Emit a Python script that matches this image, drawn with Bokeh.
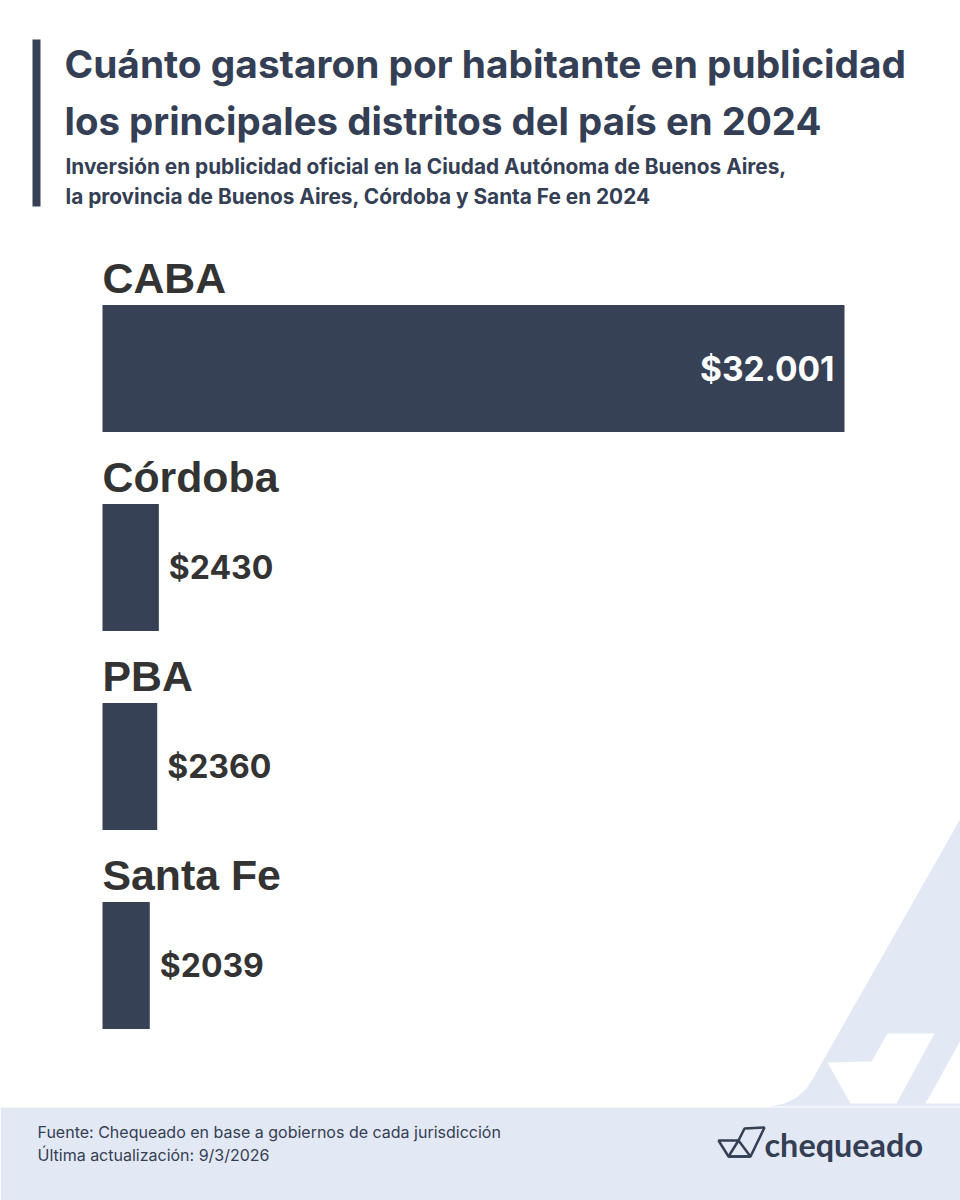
from bokeh.plotting import figure
from bokeh.models import ColumnDataSource, Range1d, Label, PolyAnnotation
from bokeh.core.properties import value
from bokeh.embed import file_html
from bokeh.resources import INLINE

distritos = ['CABA', 'Córdoba', 'PBA', 'Santa Fe']
gasto = [32001, 2430, 2360, 2039]
etiquetas = ['$32.001', '$2430', '$2360', '$2039']

titulo = ['Cuánto gastaron por habitante en publicidad', 'los principales distritos del país en 2024']
subtitulo = ['Inversión en publicidad oficial en la Ciudad Autónoma de Buenos Aires,',
             'la provincia de Buenos Aires, Córdoba y Santa Fe en 2024']
fuente = ['Fuente: Chequeado en base a gobiernos de cada jurisdicción', 'Última actualización: 9/3/2026']

AZUL = '#364156'
TEXTO = '#343e54'
CELESTE = '#e3e9f4'
W, H = 960, 1200

# escala: 0 cae en x=102 y 32001 en x=844 de la imagen
px = 32001 / 742
fila = 199
p = figure(width=W, height=H, output_backend='svg', toolbar_location=None, min_border=0,
           x_range=Range1d(-102 * px, (W - 102) * px),
           y_range=Range1d((H - 368) / fila, -368 / fila))
p.axis.visible = False
p.grid.visible = False
p.outline_line_color = None
p.background_fill_color = 'white'
p.border_fill_color = 'white'


def sy(v):
    # las unidades screen cuentan desde abajo
    return [H - a for a in v]


def fondo(xs, ys, color):
    p.add_layout(PolyAnnotation(xs=xs, ys=sy(ys), xs_units='screen', ys_units='screen',
                                fill_color=color, fill_alpha=1, line_color=None, level='underlay'))


# fondo con la marca de agua
fondo([960, 813, 806, 796, 784, 770, 960], [818, 1077, 1088, 1097, 1103, 1106, 1106], CELESTE)
fondo([887, 934, 896, 850, 827, 871], [1033, 1033, 1103, 1103, 1062, 1061], 'white')
fondo([960, 925, 960], [1040, 1103, 1103], 'white')
fondo([0, 960, 960, 0], [1107, 1107, 1200, 1200], CELESTE)

# barra lateral del titulo
fondo([32, 40, 40, 32], [39, 39, 206, 206], AZUL)

filas = list(range(len(distritos)))
source = ColumnDataSource(dict(y=filas, gasto=gasto, distrito=distritos))
p.hbar(y='y', left=0, right='gasto', height=127 / fila, fill_color=AZUL, line_color=None, source=source)
p.text(x=0, y='y', text='distrito', source=source, text_font=value('Liberation Sans'), text_font_style='bold',
       text_font_size='42.8px', text_color='#333333', text_baseline='alphabetic', y_offset=-91)

adentro = ColumnDataSource(dict(x=gasto[:1], y=filas[:1], t=etiquetas[:1]))
p.text(x='x', y='y', text='t', source=adentro, text_font=value('Inter'), text_font_style='bold',
       text_font_size='33.5px', text_color='white', text_align='right', text_baseline='alphabetic',
       x_offset=-10, y_offset=0)
afuera = ColumnDataSource(dict(x=gasto[1:], y=filas[1:], t=etiquetas[1:]))
p.text(x='x', y='y', text='t', source=afuera, text_font=value('Inter'), text_font_style='bold',
       text_font_size='32px', text_color='#333333', text_baseline='alphabetic', x_offset=10, y_offset=0)


def texto(x, y, t, size, color=TEXTO, font='Inter', style='bold'):
    # el baseline sale unos 0.37em mas abajo de lo pedido
    p.add_layout(Label(x=x, y=H - y + 0.37 * size, x_units='screen', y_units='screen', text=t, text_font=font,
                       text_font_size=f'{size}px', text_font_style=style, text_color=color,
                       text_baseline='alphabetic'))


texto(64, 77, titulo[0], 38.8)
texto(64, 135, titulo[1], 38.4)
texto(65, 173.5, subtitulo[0], 20.8)
texto(65, 204, subtitulo[1], 20.8)
texto(37, 1137, fuente[0], 16, style='normal')
texto(37, 1160, fuente[1], 16, style='normal')

# logo
p.add_layout(PolyAnnotation(xs=[718, 738, 744, 764, 750, 728], ys=sy([1140, 1140, 1128, 1127, 1156, 1156]),
                            xs_units='screen', ys_units='screen', fill_alpha=0, line_color=TEXTO,
                            line_alpha=1, line_width=2.5))
p.add_layout(PolyAnnotation(xs=[728, 738, 750], ys=sy([1156, 1140, 1156]),
                            xs_units='screen', ys_units='screen', fill_alpha=0, line_color=TEXTO,
                            line_alpha=1, line_width=2.5))
texto(764, 1156, 'chequeado', 32.4, font='Lato')

open('out.html', 'w').write(file_html(p, INLINE))
